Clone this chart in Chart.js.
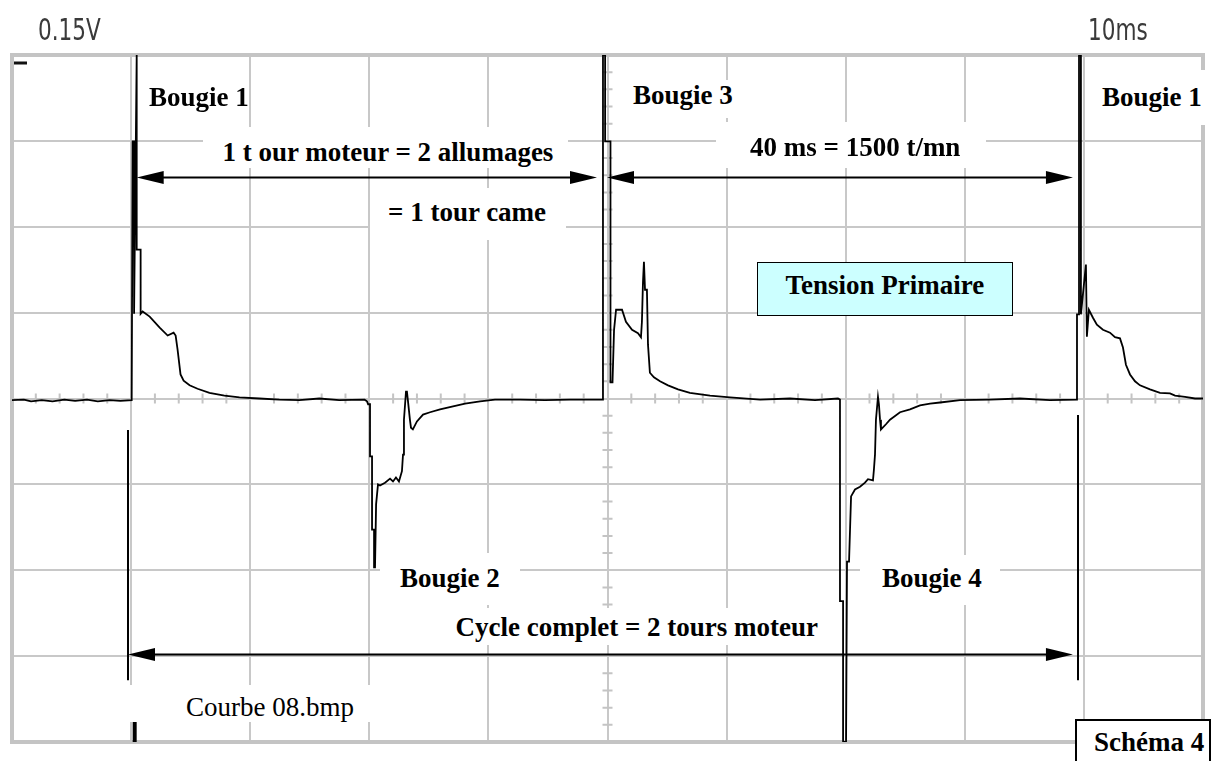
<!DOCTYPE html>
<html><head><meta charset="utf-8">
<script src="https://cdn.jsdelivr.net/npm/chart.js@4.4.0/dist/chart.umd.min.js"></script>
<style>
html,body{margin:0;padding:0;background:#fff;}
#wrap{position:relative;width:1226px;height:761px;overflow:hidden;background:#fff;}
canvas{position:absolute;left:0;top:0;}
.box{position:absolute;background:#fff;box-sizing:border-box;}
.lbl{position:absolute;white-space:nowrap;line-height:1;color:#000;font-family:'Liberation Serif','Times New Roman',serif;font-size:27px;}
.scope{position:absolute;white-space:nowrap;line-height:1;font-family:'DejaVu Sans',sans-serif;font-size:30px;color:#3a3a3a;transform-origin:0 0;transform:scaleX(0.72);}
</style></head>
<body><div id="wrap"><canvas id="c" width="1226" height="761"></canvas></div>
<script>
// ---- scale ticks (10 ms/div, 0.15 V/div) ----
const xTicks = [0,10,20,30,40,50,60,70,80,90,100];
const yTicks = [-0.6,-0.45,-0.3,-0.15,0,0.15,0.3,0.45,0.6];

// ---- primary voltage trace (time in ms, voltage in V) ----
const traceTime = [
 0,1.0,1.6,2.5,3.4,4.4,5.3,6.3,7.2,8.2,9.1,10.05,
 10.13,10.25,10.25,10.47,10.47,10.80,10.80,
 10.97,11.56,12.40,13.07,13.57,13.74,13.90,14.15,14.41,14.91,15.58,16.58,17.84,19.10,20.77,22.45,24.12,25.80,27.47,29.60,
 29.81,29.90,30.06,30.06,30.23,30.23,30.40,30.40,30.48,30.57,30.73,30.90,31.32,31.74,31.99,32.24,32.49,32.74,32.83,32.91,33.08,33.16,33.25,33.41,33.50,33.66,34.00,34.51,35.10,35.94,36.94,38.04,39.30,40.55,42.66,44.75,46.85,48.53,49.62,
 49.62,49.80,49.80,50.25,50.25,50.42,50.55,50.72,51.22,51.55,52.06,52.56,52.81,52.89,52.98,53.06,53.15,53.31,53.40,53.56,53.90,54.41,55.08,55.92,56.92,58.61,60.28,62.81,65.32,67.42,69.35,
 69.52,69.52,69.78,69.78,70.03,70.11,70.28,70.45,70.78,71.20,71.62,71.87,72.29,72.37,72.46,72.54,72.71,72.79,72.88,72.96,73.38,73.72,74.56,75.40,76.24,77.08,77.92,79.60,82.12,84.63,87.15,89.42,
 89.42,89.59,89.59,89.75,89.75,90.17,90.25,90.42,90.76,91.09,91.60,92.19,92.61,93.03,93.28,93.53,93.87,94.29,94.71,95.55,96.39,97.23,97.65,98.49,99.33,100
];
const traceVolt = [
 -0.003,-0.002,-0.005,-0.003,-0.005,-0.002,-0.004,-0.002,-0.005,-0.003,-0.004,-0.003,
 0.449,0.449,0.148,0.6,0.260,0.260,0.148,
 0.152,0.143,0.124,0.110,0.115,0.110,0.086,0.042,0.031,0.023,0.017,0.010,0.005,0.002,0.000,-0.002,-0.003,0.000,-0.003,-0.002,
 -0.005,-0.010,-0.010,-0.101,-0.101,-0.229,-0.229,-0.295,-0.295,-0.185,-0.150,-0.152,-0.147,-0.140,-0.145,-0.138,-0.145,-0.127,-0.098,-0.037,0.012,0.012,-0.005,-0.037,-0.051,-0.054,-0.040,-0.028,-0.024,-0.019,-0.014,-0.009,-0.005,-0.002,-0.002,-0.003,-0.002,-0.002,-0.002,
 0.6,0.6,0.449,0.449,0.028,0.028,0.120,0.155,0.155,0.134,0.120,0.114,0.107,0.134,0.204,0.239,0.190,0.190,0.094,0.045,0.037,0.030,0.023,0.016,0.010,0.005,0.002,-0.002,0.000,-0.003,0.000,
 -0.002,-0.354,-0.354,-0.6,-0.6,-0.285,-0.285,-0.171,-0.159,-0.154,-0.147,-0.141,-0.143,-0.124,-0.098,-0.037,0.003,-0.010,-0.037,-0.054,-0.045,-0.037,-0.024,-0.019,-0.012,-0.009,-0.007,-0.003,-0.002,0.000,-0.003,-0.002,
 0.147,0.147,0.6,0.6,0.147,0.234,0.108,0.155,0.141,0.129,0.120,0.115,0.107,0.105,0.089,0.059,0.042,0.030,0.023,0.016,0.010,0.009,0.005,0.003,0.000,0.000
];
// clipped negative overshoot of the first spark (bottom edge)
const clipTime = [10.30,10.30];
const clipVolt = [-0.565,-0.6];

// ---- dimension arrows (ms, V) ----
const arrowFrom = [10.47, 49.96, 9.74];
const arrowTo   = [49.12, 89.08, 89.08];
const arrowLevel= [0.387, 0.387, -0.446];
const markerTime = [9.74, 89.5];
const markerTop  = [-0.055, -0.029];
const markerBottom = [-0.492, -0.492];

const decor = {
  id:'decor',
  beforeDatasetsDraw(chart){
    const {ctx, chartArea:a, scales:{x,y}} = chart;
    ctx.save();
    ctx.strokeStyle = '#c4c4c4'; ctx.lineWidth = 2;
    const y0 = y.getPixelForValue(0), x0 = x.getPixelForValue(50);
    ctx.beginPath();
    for(let t=0;t<=100;t+=2){ if(t%10===0) continue; const px=x.getPixelForValue(t); ctx.moveTo(px,y0-5); ctx.lineTo(px,y0+5); }
    for(let k=-20;k<=20;k++){ if(k%5===0) continue; const py=y.getPixelForValue(k*0.03); ctx.moveTo(x0-5,py); ctx.lineTo(x0+5,py); }
    ctx.stroke();
    ctx.strokeStyle = '#c4c4c4'; ctx.lineWidth = 4;
    ctx.strokeRect(a.left, a.top, a.right-a.left, a.bottom-a.top);
    ctx.strokeStyle = '#111'; ctx.lineWidth = 3;
    ctx.beginPath(); ctx.moveTo(a.left+2, a.top+8); ctx.lineTo(a.left+15, a.top+8); ctx.stroke();
    ctx.restore();
  },
  afterDatasetsDraw(chart){
    const {ctx, scales:{x,y}} = chart;
    ctx.save();
    ctx.strokeStyle = '#000'; ctx.fillStyle = '#000'; ctx.lineWidth = 2;
    const L = 27, H = 6.5;
    for(let i=0;i<arrowFrom.length;i++){
      const x1 = x.getPixelForValue(arrowFrom[i]), x2 = x.getPixelForValue(arrowTo[i]), py = Math.round(y.getPixelForValue(arrowLevel[i]))+0.5;
      ctx.beginPath(); ctx.moveTo(x1+L-2,py); ctx.lineTo(x2-L+2,py); ctx.stroke();
      ctx.beginPath(); ctx.moveTo(x1,py); ctx.lineTo(x1+L,py-H); ctx.lineTo(x1+L,py+H); ctx.closePath(); ctx.fill();
      ctx.beginPath(); ctx.moveTo(x2,py); ctx.lineTo(x2-L,py-H); ctx.lineTo(x2-L,py+H); ctx.closePath(); ctx.fill();
    }
    for(let i=0;i<markerTime.length;i++){
      const px = Math.round(x.getPixelForValue(markerTime[i]));
      ctx.beginPath(); ctx.moveTo(px, y.getPixelForValue(markerTop[i])); ctx.lineTo(px, y.getPixelForValue(markerBottom[i])); ctx.stroke();
    }
    ctx.restore();
  }
};

new Chart(document.getElementById('c'), {
  type:'line',
  data:{datasets:[
    {data: traceTime.map((t,i)=>({x:t,y:traceVolt[i]})), borderColor:'#000', borderWidth:1.8, pointRadius:0, tension:0, fill:false},
    {data: clipTime.map((t,i)=>({x:t,y:clipVolt[i]})), borderColor:'#000', borderWidth:4, pointRadius:0, fill:false}
  ]},
  options:{
    responsive:false, animation:false, devicePixelRatio:1, events:[],
    layout:{padding:{left:12,top:55,right:23,bottom:19}},
    plugins:{legend:{display:false}, tooltip:{enabled:false}},
    scales:{
      x:{type:'linear',min:0,max:100,
         afterBuildTicks:s=>{s.ticks = xTicks.map(v=>({value:v}));},
         ticks:{display:false}, grid:{color:'#c8c8c8',lineWidth:2,drawTicks:false}, border:{display:false}},
      y:{type:'linear',min:-0.6,max:0.6,
         afterBuildTicks:s=>{s.ticks = yTicks.map(v=>({value:v}));},
         ticks:{display:false}, grid:{color:'#c8c8c8',lineWidth:2,drawTicks:false}, border:{display:false}}
    }
  },
  plugins:[decor]
});

// ---- annotation boxes & texts ----
const wrap = document.getElementById('wrap');
const boxes = [
  [203,127,365,41], [370,188,196,52], [625,80,115,38], [716,122,270,46], [1086,70,120,55],
  [380,553,140,52], [860,555,140,50], [448,608,378,37], [128,685,272,37]
];
boxes.forEach(b=>{
  const d=document.createElement('div'); d.className='box';
  Object.assign(d.style,{left:b[0]+'px',top:b[1]+'px',width:b[2]+'px',height:b[3]+'px'});
  wrap.appendChild(d);
});
const tp=document.createElement('div'); tp.className='box';
Object.assign(tp.style,{left:'757px',top:'262px',width:'256px',height:'54px',background:'#ccffff',border:'1px solid #000'});
wrap.appendChild(tp);
const sc=document.createElement('div'); sc.className='box';
Object.assign(sc.style,{left:'1075px',top:'719px',width:'136px',height:'60px',border:'2px solid #000'});
wrap.appendChild(sc);

const FS = 27;
const labels = [
  {t:'Bougie 1', cx:199, base:107, b:true},
  {t:'1 t our moteur = 2 allumages', cx:388, base:162, b:true},
  {t:'= 1 tour came', cx:467, base:222, b:true},
  {t:'Bougie 3', cx:683, base:105, b:true},
  {t:'40 ms = 1500 t/mn', cx:855, base:157, b:true},
  {t:'Tension Primaire', cx:885, base:295, b:true},
  {t:'Bougie 1', cx:1152, base:107, b:true},
  {t:'Bougie 2', cx:450, base:588, b:true},
  {t:'Bougie 4', cx:932, base:588, b:true},
  {t:'Cycle complet = 2 tours moteur', cx:637, base:637, b:true},
  {t:'Courbe 08.bmp', cx:270, base:717, b:false},
  {t:'Schéma 4', cx:1149, base:752, b:true}
];
labels.forEach(l=>{
  const d=document.createElement('div'); d.className='lbl'; d.textContent=l.t;
  d.style.fontWeight = l.b ? 'bold' : 'normal';
  d.style.top = (l.base - 0.8375*FS)+'px';
  wrap.appendChild(d);
  d.style.left = (l.cx - d.offsetWidth/2)+'px';
});
[['0.15V',38],['10ms',1088]].forEach(s=>{
  const d=document.createElement('div'); d.className='scope'; d.textContent=s[0];
  d.style.left=s[1]+'px'; d.style.top=(40-0.846*30)+'px';
  wrap.appendChild(d);
});
</script>
</body></html>
